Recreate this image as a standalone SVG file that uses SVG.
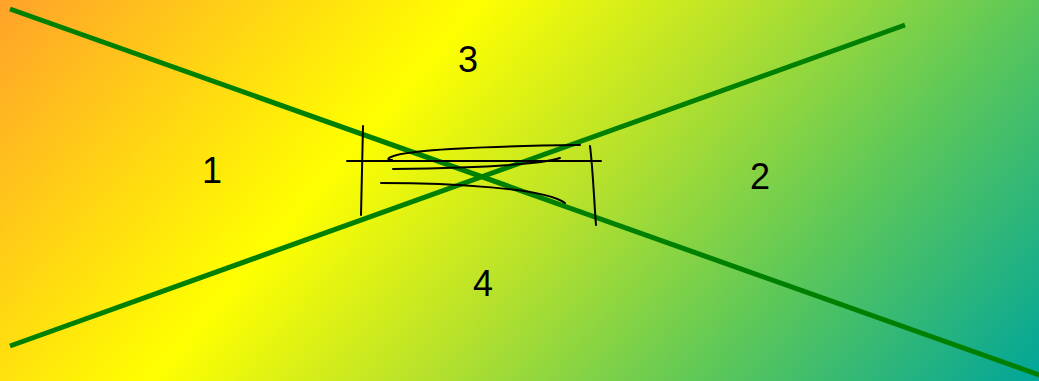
<svg xmlns="http://www.w3.org/2000/svg" width="1039" height="381" viewBox="0 0 1039 381">
<defs>
<linearGradient id="bg" gradientUnits="userSpaceOnUse" x1="0" y1="0" x2="782" y2="678">
<stop offset="0" stop-color="#FFA22A"/>
<stop offset="0.35" stop-color="#FFFF00"/>
<stop offset="0.55" stop-color="#B6E12C"/>
<stop offset="0.75" stop-color="#5EC858"/>
<stop offset="1" stop-color="#00A59A"/>
</linearGradient>
<style>
.lbl{font-family:"Liberation Sans",Arial,sans-serif;font-size:36px;fill:#000;text-anchor:middle}
.x{stroke:#008000;stroke-width:5;fill:none}
.ink{stroke:#000;stroke-width:2;fill:none;stroke-linecap:round}
</style>
</defs>
<rect x="0" y="0" width="1039" height="381" fill="url(#bg)"/>
<g id="connectors">
<line class="x" x1="10" y1="9" x2="1045" y2="377"/>
<line class="x" x1="10" y1="346" x2="905" y2="25"/>
</g>
<g id="scribble">
<path class="ink" d="M363,126 L361,215"/>
<path class="ink" d="M347,161 L601,161"/>
<path class="ink" d="M580,145 C500,146 400,149 389,158 C387,160 390,160 392,160"/>
<path class="ink" d="M393,169 C460,168 540,165 560,158"/>
<path class="ink" d="M381,183 C450,183 545,188 565,203"/>
<path class="ink" d="M590,146 C593,170 594,200 596,225"/>
</g>
<g id="n1"><text class="lbl" x="212" y="183">1</text></g>
<g id="n2"><text class="lbl" x="760" y="189">2</text></g>
<g id="n3"><text class="lbl" x="468" y="72">3</text></g>
<g id="n4"><text class="lbl" x="483" y="296">4</text></g>
</svg>
